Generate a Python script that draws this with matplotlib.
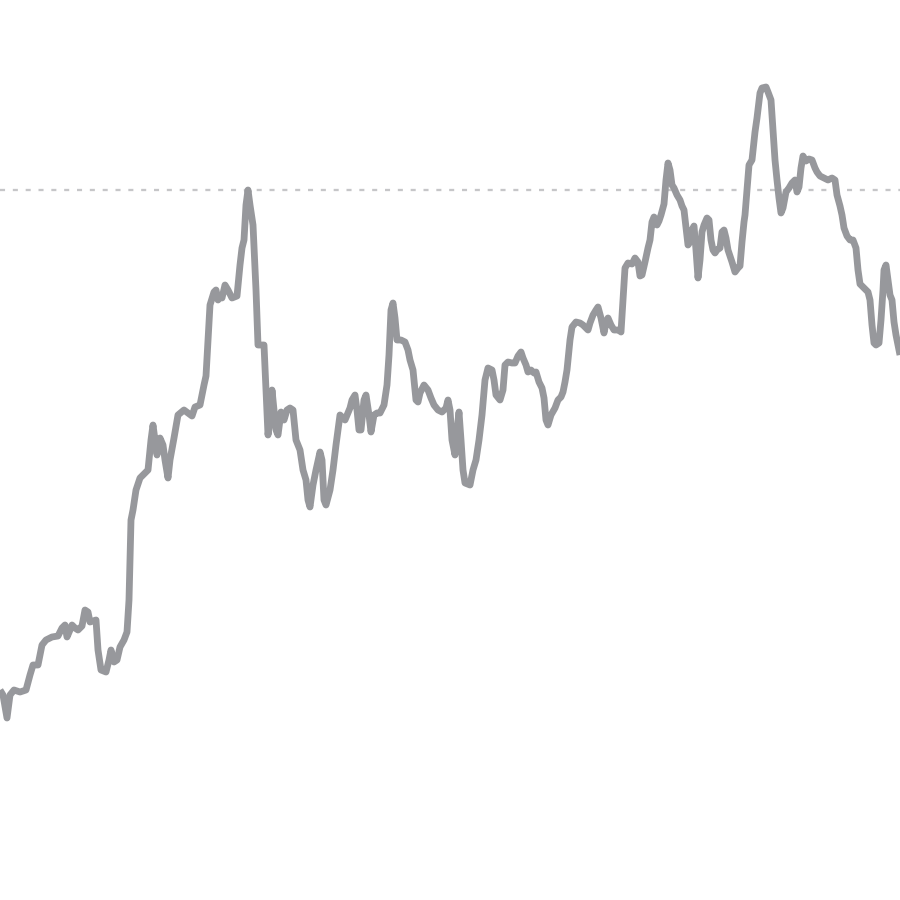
import matplotlib
matplotlib.use("Agg")
import matplotlib.pyplot as plt

# Time index (trading days) and index level
days = [0, 3, 7, 10, 14, 20, 26, 30, 33, 38, 42, 46, 52, 58, 62, 65, 67, 70, 72, 75, 78, 82, 85, 88, 90, 96, 98, 101, 106, 109, 111, 114, 117, 120, 124, 127, 129, 131, 133, 136, 140, 145, 148, 151, 153, 155, 157, 160, 163, 165, 168, 170, 174, 178, 184, 188, 192, 195, 200, 204, 206, 208, 210, 214, 216, 218, 220, 222, 225, 228, 232, 237, 240, 242, 244, 246, 248, 250, 253, 256, 258, 262, 264, 266, 268, 270, 272, 274, 276, 278, 281, 284, 287, 290, 293, 296, 300, 303, 306, 308, 310, 313, 316, 320, 322, 324, 326, 330, 333, 336, 340, 345, 350, 352, 355, 357, 359, 361, 364, 366, 369, 371, 374, 377, 380, 384, 387, 389, 391, 393, 395, 397, 401, 405, 408, 410, 413, 414, 416, 418, 420, 424, 428, 431, 434, 438, 442, 446, 448, 450, 452, 455, 457, 459, 461, 463, 465, 470, 473, 476, 479, 482, 485, 488, 492, 494, 496, 500, 503, 505, 508, 512, 515, 518, 521, 523, 526, 528, 531, 534, 536, 539, 542, 544, 546, 548, 551, 555, 558, 561, 563, 565, 567, 568, 570, 572, 576, 580, 583, 585, 588, 590, 593, 596, 598, 601, 604, 606, 608, 611, 614, 617, 619, 621, 623, 625, 628, 632, 635, 638, 640, 642, 645, 648, 650, 652, 654, 657, 659, 661, 664, 666, 668, 670, 672, 674, 677, 680, 682, 684, 686, 688, 690, 692, 694, 696, 698, 700, 702, 704, 707, 709, 711, 713, 715, 717, 720, 722, 724, 726, 728, 730, 732, 735, 738, 740, 742, 744, 745, 747, 749, 752, 755, 757, 760, 762, 766, 768, 771, 773, 775, 777, 779, 781, 783, 786, 789, 792, 795, 797, 799, 801, 803, 806, 809, 812, 815, 817, 820, 824, 828, 832, 835, 837, 840, 842, 844, 847, 850, 853, 856, 858, 860, 863, 866, 868, 870, 872, 874, 876, 879, 881, 883, 884, 886, 888, 890, 892, 894, 896, 898, 900]

pix = [690, 695, 718, 695, 690, 692, 690, 675, 665, 665, 645, 640, 637, 636, 628, 625, 637, 630, 625, 628, 630, 626, 610, 612, 622, 620, 650, 670, 672, 660, 650, 662, 660, 647, 640, 632, 600, 520, 510, 490, 478, 473, 470, 440, 425, 440, 455, 438, 445, 460, 478, 460, 438, 415, 410, 413, 416, 407, 405, 385, 376, 340, 305, 292, 290, 300, 296, 298, 285, 290, 298, 296, 265, 248, 240, 205, 190, 205, 225, 290, 345, 345, 345, 390, 435, 420, 390, 410, 430, 435, 412, 420, 410, 408, 410, 440, 450, 470, 480, 500, 507, 485, 470, 452, 460, 500, 505, 490, 470, 445, 415, 420, 408, 400, 395, 410, 430, 430, 400, 395, 415, 432, 415, 413, 413, 405, 385, 355, 310, 303, 318, 340, 340, 342, 350, 360, 370, 380, 400, 402, 393, 385, 390, 398, 405, 410, 412, 408, 400, 410, 440, 455, 430, 412, 440, 470, 483, 485, 470, 460, 440, 415, 380, 368, 370, 380, 395, 400, 390, 365, 362, 363, 363, 356, 352, 358, 365, 372, 370, 373, 372, 382, 388, 398, 420, 425, 415, 408, 400, 397, 392, 382, 370, 360, 340, 327, 322, 323, 325, 327, 330, 323, 315, 310, 307, 318, 333, 323, 318, 325, 330, 330, 330, 332, 300, 268, 263, 264, 258, 262, 276, 275, 262, 248, 240, 222, 217, 225, 221, 215, 204, 180, 163, 170, 185, 188, 195, 200, 206, 210, 228, 245, 242, 230, 226, 250, 278, 260, 232, 225, 218, 220, 240, 250, 253, 250, 248, 232, 230, 238, 250, 256, 262, 272, 268, 266, 242, 222, 215, 190, 165, 160, 132, 118, 93, 88, 87, 92, 100, 130, 160, 180, 198, 213, 208, 192, 188, 183, 180, 192, 187, 168, 156, 161, 159, 160, 168, 172, 176, 178, 180, 178, 180, 195, 206, 215, 228, 236, 240, 240, 248, 270, 284, 287, 290, 292, 300, 325, 343, 345, 343, 320, 290, 270, 265, 280, 295, 300, 322, 335, 345, 355]

levels = [900 - p for p in pix]
reference_level = 900 - 190

fig = plt.figure(figsize=(9, 9), dpi=100)
ax = fig.add_axes([0, 0, 1, 1])
ax.axhline(reference_level, color="#c6c6c8", lw=1.65, dashes=(2.2, 3.4), zorder=1)
ax.plot(days, levels, color="#97989c", lw=4.9, solid_joinstyle="round",
        solid_capstyle="butt", zorder=2)
ax.set_xlim(0, 900)
ax.set_ylim(0, 900)
ax.axis("off")
fig.savefig("out.png", dpi=100, facecolor="white")
